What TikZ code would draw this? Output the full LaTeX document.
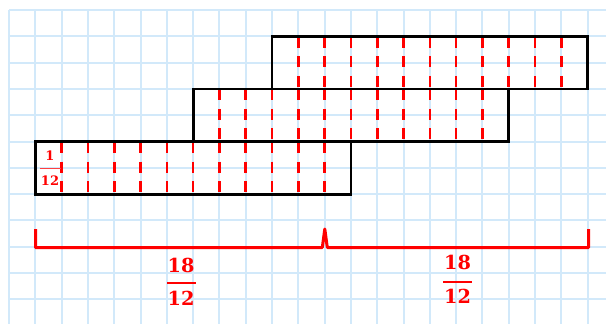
\documentclass[tikz,border=0pt]{standalone}
\usepackage{fontspec}
\newfontfamily\fracfont{DejaVu Serif}
\usetikzlibrary{calc}
\definecolor{gridblue}{RGB}{210,233,250}
\definecolor{bred}{RGB}{255,0,0}
\tikzset{
  gridline/.style={draw=gridblue, line width=2pt},
  bar/.style={draw=black, line width=2.8pt, line join=miter},
  cut/.style={draw=bred, line width=2.6pt, dash pattern=on 11pt off 8.5pt},
  brace/.style={draw=bred, line width=3pt, line join=round, line cap=butt},
  bigfrac/.style={text=bred, inner sep=0pt, font=\fracfont\fontsize{19.3}{22}\selectfont\bfseries},
  smallfrac/.style={text=bred, inner sep=0pt, font=\fracfont\fontsize{13}{15}\selectfont\bfseries},
  fracbar/.style={draw=bred, line width=2pt},
  smallbar/.style={draw=bred!75, line width=1.4pt}
}
\begin{document}
\begin{tikzpicture}[x=1pt,y=-1pt]
\useasboundingbox (0,0) rectangle (606,324);
\fill[white] (0,0) rectangle (606,324);
% grid
\def\gx#1{9+26.3*#1}
\def\gy#1{10+26.3*#1}
\foreach \k in {0,...,22} \draw[gridline] ({\gx{\k}},10) -- ({\gx{\k}},324);
\foreach \j in {0,...,11} \draw[gridline] (9,{\gy{\j}}) -- (606,{\gy{\j}});
% dashed cuts
\foreach \c in {2,...,12} \draw[cut] ({\gx{\c}},{\gy{5}+0.5}) -- ({\gx{\c}},{\gy{7}});
\foreach \c in {8,...,18} \draw[cut] ({\gx{\c}},{\gy{3}+0.5}) -- ({\gx{\c}},{\gy{5}});
\foreach \c in {11,...,21} \draw[cut] ({\gx{\c}},{\gy{1}+0.5}) -- ({\gx{\c}},{\gy{3}});
% bars
\coordinate (b1) at ({\gx{1}},{\gy{5}});
\coordinate (b2) at ({\gx{13}},{\gy{7}});
\coordinate (m1) at ({\gx{7}},{\gy{3}});
\coordinate (m2) at ({\gx{19}},{\gy{5}});
\coordinate (t1) at ({\gx{10}},{\gy{1}});
\coordinate (t2) at ({\gx{22}},{\gy{3}});
\draw[bar] (b1) rectangle (b2);
\draw[bar] (m1) rectangle (m2);
\draw[bar] (t1) rectangle (t2);
% small label
\node[smallfrac] (sn) at (50,156) {1};
\node[smallfrac] (sd) at (50,181) {12};
\draw[smallbar] (39.5,168.5) -- (60.5,168.5);
% brace
\coordinate (L) at (35.5,229);
\coordinate (M) at (324.8,229);
\coordinate (R) at (588.5,229);
\draw[brace] (L) -- (35.5,247.5) -- (322.3,247.5) -- (M) -- (327.3,247.5) -- (588.5,247.5) -- (R);
% big labels
\node[bigfrac] (n1) at (181,265.3) {18};
\draw[fracbar] (167,283.3) -- (195.5,283.3);
\node[bigfrac] (d1) at (181,298.7) {12};
\node[bigfrac] (n2) at (457.5,262.3) {18};
\draw[fracbar] (443,281.7) -- (472,281.7);
\node[bigfrac] (d2) at (457.5,296.7) {12};
\end{tikzpicture}
\end{document}
